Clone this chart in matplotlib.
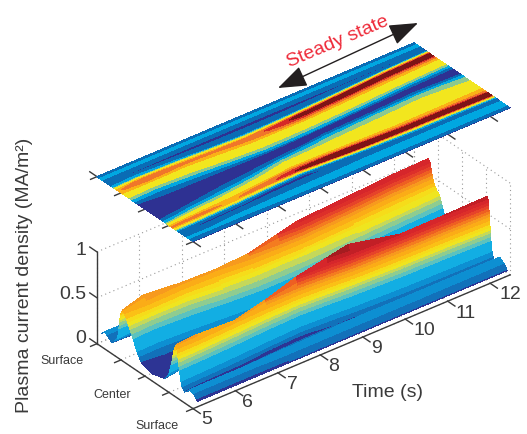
import numpy as np
import matplotlib
matplotlib.use('Agg')
import matplotlib.pyplot as plt
from matplotlib.colors import ListedColormap, BoundaryNorm
from matplotlib.patches import FancyArrowPatch

W, H = 527, 435
plt.rcParams['font.family'] = ['Liberation Sans', 'DejaVu Sans']

time_surface = [5.1, 5.6, 6.5, 7.25, 8.0, 8.7, 9.2, 10.4, 11.4, 12.4]
time_map = [5.0, 5.6, 6.5, 7.25, 8.0, 8.7, 9.2, 10.4, 11.4, 12.47]

# where the two ridges and the central valley sit at those times,
# 0 = near surface, 1 = far surface
near_at = [.22, .225, .235, .25, .26, .25, .24, .225, .22, .21]
valley_at = [.46, .47, .49, .50, .50, .51, .52, .53, .54, .54]
far_at = [.78, .785, .78, .77, .76, .765, .77, .79, .81, .82]

# rows of the table: fixed at the edges, following the ridges in between
edge_near = [0, .02, .05, .08, .11]
near_rows = [-.09, -.07, -.055, -.045, -.035, -.025, -.018, -.012, -.006, 0,
             .01, .02, .03, .045, .07, .10, .14]
valley_rows = [-.06, -.03, 0, .02, .04]
far_rows = [-.20, -.16, -.12, -.10, -.08, -.06, -.045, -.03, -.02, -.01, 0,
            .012, .024, .036, .05]
edge_far = [.89, .92, .96, 1]

# current density, one profile per time
j_1 = [.06, .09, .13, .12, .09,
       .07, .08, .13, .19, .26, .35, .41, .45, .49, .52, .50, .46, .40, .30, .17, .09, .05,
       .04, .03, .03, .04, .05,
       .07, .14, .24, .30, .35, .40, .43, .46, .48, .50, .50, .47, .40, .28, .15,
       .07, .09, .14, .09]
j_2 = [.06, .09, .13, .12, .08,
       .06, .08, .13, .19, .27, .36, .43, .48, .51, .53, .52, .48, .43, .35, .24, .14, .07,
       .04, .03, .02, .03, .05,
       .08, .14, .23, .29, .35, .40, .45, .50, .53, .55, .565, .54, .46, .32, .17,
       .06, .09, .14, .09]
j_3 = [.06, .09, .13, .13, .09,
       .06, .08, .12, .17, .25, .33, .40, .45, .48, .50, .49, .47, .44, .39, .30, .20, .10,
       .05, .03, .02, .03, .05,
       .09, .17, .27, .31, .35, .39, .42, .46, .49, .51, .53, .50, .41, .28, .14,
       .05, .09, .14, .09]
j_4 = [.06, .10, .14, .14, .10,
       .06, .07, .12, .17, .25, .34, .42, .48, .53, .56, .55, .51, .46, .40, .33, .25, .13,
       .06, .04, .02, .03, .05,
       .10, .20, .31, .35, .39, .42, .44, .46, .49, .51, .53, .48, .37, .24, .12,
       .05, .09, .14, .09]
j_5 = [.06, .10, .14, .14, .11,
       .06, .07, .11, .17, .26, .38, .48, .56, .62, .66, .64, .60, .54, .46, .39, .34, .25,
       .10, .05, .03, .03, .05,
       .11, .23, .33, .37, .40, .43, .46, .50, .53, .55, .56, .50, .36, .23, .12,
       .05, .09, .14, .09]
j_6 = [.06, .10, .14, .15, .11,
       .07, .08, .12, .19, .30, .44, .57, .66, .72, .74, .72, .67, .60, .49, .40, .35, .29,
       .14, .06, .03, .03, .05,
       .12, .24, .34, .37, .40, .44, .49, .55, .59, .62, .63, .57, .40, .25, .12,
       .05, .09, .14, .09]
j_7 = [.06, .10, .14, .15, .12,
       .065, .09, .13, .21, .33, .50, .63, .72, .78, .80, .78, .72, .63, .50, .41, .36, .33,
       .17, .08, .04, .03, .05,
       .12, .24, .35, .38, .41, .46, .52, .60, .65, .67, .68, .64, .46, .26, .12,
       .05, .09, .14, .09]
j_8 = [.06, .10, .14, .15, .12,
       .065, .10, .15, .23, .35, .50, .62, .67, .69, .69, .68, .65, .58, .49, .42, .39, .38,
       .20, .09, .04, .03, .04,
       .11, .24, .37, .40, .42, .46, .52, .60, .66, .68, .69, .67, .52, .28, .12,
       .06, .09, .14, .09]
j_9 = [.06, .10, .14, .15, .12,
       .065, .10, .15, .23, .36, .51, .64, .68, .70, .70, .69, .66, .59, .50, .44, .42, .42,
       .22, .11, .05, .03, .04,
       .10, .24, .38, .41, .43, .46, .52, .60, .66, .69, .70, .68, .54, .30, .12,
       .06, .09, .14, .09]
j_10 = [.06, .10, .14, .15, .11,
        .06, .08, .13, .22, .36, .52, .64, .69, .71, .72, .71, .67, .60, .52, .46, .42, .38,
        .18, .08, .04, .03, .04,
        .09, .23, .37, .40, .42, .46, .52, .60, .66, .69, .70, .68, .55, .30, .13,
        .06, .09, .14, .09]

surface_levels = [0, .07, .11, .16, .27, .31, .35, .38, .41, .44, .48, .52, .55,
                  .58, .61, .64, .67, .70, .74, 1]
surface_colors = ['#2d3494', '#1271ba', '#0d8fd2', '#12aee3', '#5cc2bf', '#8fcc90',
                  '#c5d85a', '#efe51f', '#f6dc1a', '#fbc016', '#fbac17', '#f79a1e',
                  '#f47c20', '#ee5f22', '#e6432a', '#dd2f2a', '#d6262b', '#c21f26',
                  '#a51c20']
map_levels = [0, .07, .125, .20, .28, .44, .51, .60, .66, 1]
map_colors = ['#2e3192', '#0a6cb5', '#00a7e1', '#8cc98f', '#f2e61e', '#fbb017',
              '#f0762a', '#d52a27', '#7e1416']

time_ticks = [5, 6, 7, 8, 9, 10, 11, 12]
rho_ticks = [-1, -.5, 0, .5, 1]
rho_labels = ['Surface', 'Center', 'Surface']
z_ticks = [0, .5, 1]
z_labels = ['0', '0.5', '1']

# table rows that bound each rising or falling stretch of a profile
flanks = [(0, 3), (3, 5), (5, 14), (14, 24), (24, 37), (37, 42), (42, 44), (44, 45)]

T_END = 12.47
Z_MAP = 1.82
ink = '#3a3a3a'
dots = '#999999'
dot_style = (0, (1, 3))

J = np.array([j_1, j_2, j_3, j_4, j_5, j_6, j_7, j_8, j_9, j_10])
across = np.array([edge_near + [n + r for r in near_rows]
                   + [v + r for r in valley_rows] + [f + r for r in far_rows] + edge_far
                   for n, v, f in zip(near_at, valley_at, far_at)])
rho = 2 * across - 1


def band_mesh(rows, values):
    # like contouring across the plasma: mesh rows run along the colour band
    # edges of each stretch, so the bands do not step at every table column
    inner = np.array(surface_levels[1:-1])
    out_r = np.zeros((values.shape[0], 0))
    out_z = np.zeros((values.shape[0], 0))
    for i0, i1 in flanks:
        col_r, col_z = [], []
        for r, v in zip(rows, values):
            r_f, v_f = r[i0:i1 + 1], v[i0:i1 + 1]
            rising = v[i1] >= v[i0]
            if not rising:
                r_f, v_f = r_f[::-1], v_f[::-1]
            v_f = np.maximum.accumulate(v_f)
            rr = np.interp(inner, v_f, r_f)
            zz = np.clip(inner, v_f[0], v_f[-1])
            rr = np.r_[r_f[0], rr, r_f[-1]]
            zz = np.r_[v_f[0], zz, v_f[-1]]
            if not rising:
                rr, zz = rr[::-1], zz[::-1]
            col_r.append(rr)
            col_z.append(zz)
        out_r = np.hstack([out_r, np.array(col_r)])
        out_z = np.hstack([out_z, np.array(col_z)])
    return out_r, out_z


def px(x, y):
    return x / W, 1 - y / H


fig = plt.figure(figsize=(W / 100, H / 100), dpi=100)
# square axes, size worked out from the pixel length of the time axis
ax = fig.add_axes([66.4 / W, 1 - 463.9 / H, 461.8 / W, 461.8 / H], projection='3d',
                  computed_zorder=False)
ax.set_proj_type('ortho')
ax.view_init(elev=32.3, azim=-128.3)
ax.set_box_aspect((404, 155, 197.6))
ax.set_xlim(5, T_END, view_margin=0)
ax.set_ylim(-1, 1, view_margin=0)
ax.set_zlim(0, Z_MAP, view_margin=0)
ax.set_axis_off()
ax.patch.set_alpha(0)

# dotted box and grid
for z in z_ticks:
    ax.plot([5, T_END], [1, 1], [z, z], ls=dot_style, color=dots, lw=.8, zorder=1)
    ax.plot([T_END, T_END], [-1, 1], [z, z], ls=dot_style, color=dots, lw=.8, zorder=1)
for t in time_ticks + [T_END]:
    ax.plot([t, t], [1, 1], [0, 1], ls=dot_style, color=dots, lw=.8, zorder=1)
    ax.plot([t, t], [-1, 1], [0, 0], ls=dot_style, color=dots, lw=.8, zorder=1)
for r in rho_ticks:
    ax.plot([T_END, T_END], [r, r], [0, 1], ls=dot_style, color=dots, lw=.8, zorder=1)
    ax.plot([5, T_END], [r, r], [0, 0], ls=dot_style, color=dots, lw=.8, zorder=1)

# solid axes
ax.plot([5, 5], [1, 1], [0, 1], color=ink, lw=1, zorder=2)
ax.plot([5, 5], [-1, 1], [0, 0], color=ink, lw=1, zorder=2)
ax.plot([5, T_END], [-1, -1], [0, 0], color=ink, lw=1, zorder=2)
for t in time_ticks:
    ax.plot([t, t], [-1, -1.15], [0, 0], color=ink, lw=1, zorder=2)
    ax.plot([t, t], [-1, -1.15], [Z_MAP, Z_MAP], color=ink, lw=1, zorder=2)
for r in rho_ticks:
    ax.plot([5, 4.85], [r, r], [0, 0], color=ink, lw=1, zorder=2)
    ax.plot([5, 4.85], [r, r], [Z_MAP, Z_MAP], color=ink, lw=1, zorder=2)
for z in z_ticks:
    ax.plot([5, 5], [1, 1.15], [z, z], color=ink, lw=1, zorder=2)
ax.plot([5, 5], [1, 1.15], [Z_MAP, Z_MAP], color=ink, lw=1, zorder=2)

# measured surface
mesh_r, mesh_z = band_mesh(rho, J)
T = np.repeat(np.array(time_surface)[:, None], mesh_r.shape[1], axis=1)
ax.plot_surface(T, mesh_r, mesh_z, cmap=ListedColormap(surface_colors),
                norm=BoundaryNorm(surface_levels, len(surface_colors)),
                rstride=1, cstride=1, linewidth=0, antialiased=False, zorder=3)

# the same data as a flat map above it
Tm = np.repeat(np.array(time_map)[:, None], rho.shape[1], axis=1)
ax.contourf(Tm, rho, J, levels=map_levels, colors=map_colors, zdir='z', offset=Z_MAP,
            antialiased=False, zorder=4)

# tick labels, placed in picture pixels
time_label_x = [207, 247, 292, 334, 377, 424, 466, 510]
time_label_y = [420, 403, 385, 367, 349, 331, 313, 295]
for t, x, y in zip(time_ticks, time_label_x, time_label_y):
    fig.text(*px(x, y), str(t), fontsize=14, color=ink, ha='center', va='center')
for name, x, y in zip(rho_labels, [62, 112, 157], [361, 395, 426]):
    fig.text(*px(x, y), name, fontsize=9, color=ink, ha='center', va='center')
for name, y in zip(z_labels, [339, 295, 251]):
    fig.text(*px(86, y), name, fontsize=14, color=ink, ha='right', va='center')

fig.text(*px(25, 275), 'Plasma current density (MA/m²)', rotation=90, fontsize=14,
         color=ink, ha='center', va='center')
fig.text(*px(387, 393), 'Time (s)', fontsize=14, color=ink, ha='center', va='center')
fig.text(*px(338, 42), 'Steady state', rotation=23, fontsize=14, color='#ee2a39',
         ha='center', va='center')
fig.add_artist(FancyArrowPatch(px(278, 89), px(418, 24), transform=fig.transFigure,
                               arrowstyle='<|-|>,head_length=.9,head_width=.33',
                               mutation_scale=20, lw=1, color='#231f20',
                               shrinkA=0, shrinkB=0))

fig.savefig('out.png', dpi=100)
